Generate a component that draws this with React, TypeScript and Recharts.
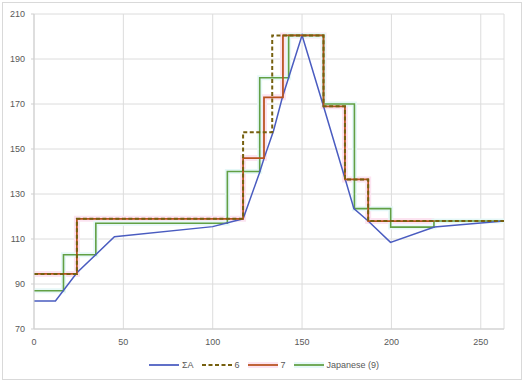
import React from "react";
import { LineChart, Line, XAxis, YAxis, CartesianGrid, Legend } from "recharts";

// ΣA (polyline)
const sumAX = [0, 12, 24, 45, 100, 117, 126, 129, 134, 139, 150, 162, 174, 179, 187, 199.5, 224, 263];
const sumAY = [82.5, 82.5, 95, 111, 115.5, 119, 139, 146.5, 158, 173, 200.5, 169, 137, 123.5, 118, 108.5, 115.3, 118];

// 6 (step after)
const s6X = [0, 24, 117, 133.3, 162, 174, 187, 263];
const s6Y = [94.5, 119, 157.5, 200.5, 169, 136.5, 118, 118];

// 7 (step after)
const s7X = [0, 24, 117, 128.7, 139.3, 162, 174, 187, 224];
const s7Y = [94.5, 119, 146, 173, 200.5, 169, 136.5, 118, 118];

// Japanese (9) (step after)
const jpX = [0, 16.5, 34.6, 108.2, 126.3, 142.5, 162, 179.3, 199.6, 223.8, 263];
const jpY = [87, 103, 117, 140, 181.7, 200.5, 170, 123.5, 115.3, 118, 118];

const xTicks = [0, 50, 100, 150, 200, 250];
const yTicks = [70, 90, 110, 130, 150, 170, 190, 210];

const seriesNames = ["ΣA", "6", "7", "Japanese (9)"];

const zip = (xs: number[], ys: number[]) => xs.map((x, i) => ({ x, y: ys[i] }));
const dataA = zip(sumAX, sumAY);
const data6 = zip(s6X, s6Y);
const data7 = zip(s7X, s7Y);
const dataJ = zip(jpX, jpY);

const C_BLUE = "#4a5cc0";
const C_6 = "#76600f";
const C_7 = "#b9521f";
const C_J = "#62a044";
const GLOW_7 = "#fce4f1";
const GLOW_J = "#e6f8f8";

const FONT = "'Liberation Sans', Arial, sans-serif";

const legendItems = [
  { name: seriesNames[0], color: C_BLUE, dash: undefined as string | undefined, glow: undefined as string | undefined },
  { name: seriesNames[1], color: C_6, dash: "4 2.5", glow: undefined },
  { name: seriesNames[2], color: C_7, dash: undefined, glow: GLOW_7 },
  { name: seriesNames[3], color: C_J, dash: undefined, glow: GLOW_J },
];

const LegendContent = () => (
  <div
    style={{
      display: "flex",
      justifyContent: "center",
      alignItems: "center",
      height: 16,
      fontFamily: FONT,
      fontSize: 9,
      color: "#595959",
    }}
  >
    {legendItems.map((it, i) => (
      <div key={it.name} style={{ display: "flex", alignItems: "center", marginLeft: i === 0 ? 0 : 8 }}>
        <svg width={30} height={8} style={{ marginRight: 3 }}>
          {it.glow && <line x1={0} y1={4} x2={30} y2={4} stroke={it.glow} strokeWidth={6} />}
          <line
            x1={0}
            y1={4}
            x2={30}
            y2={4}
            stroke={it.color}
            strokeWidth={it.dash ? 2 : 1.75}
            strokeDasharray={it.dash}
          />
        </svg>
        <span>{it.name}</span>
      </div>
    ))}
  </div>
);

export default function App() {
  return (
    <div style={{ position: "absolute", left: 0, top: 0, width: 528, height: 386, background: "#fff" }}>
      <div
        style={{
          position: "absolute",
          left: 2,
          top: 2,
          width: 520,
          height: 378,
          border: "1px solid #d9d9d9",
          boxSizing: "border-box",
        }}
      />
      <div style={{ position: "absolute", left: 0, top: 0 }}>
        <LineChart width={528} height={386} margin={{ top: 14, right: 24, bottom: 13, left: 0 }}>
          <CartesianGrid stroke="#dcdcdc" strokeWidth={1} vertical={true} horizontal={true} />
          <XAxis
            type="number"
            dataKey="x"
            domain={[0, 263]}
            ticks={xTicks}
            allowDataOverflow
            height={28}
            tickLine={false}
            axisLine={{ stroke: "#cfcfcf" }}
            tick={{ fill: "#595959", fontSize: 9, fontFamily: FONT }}
            tickMargin={4}
            interval={0}
          />
          <YAxis
            type="number"
            domain={[70, 210]}
            ticks={yTicks}
            width={34}
            tickSize={3}
            tickMargin={6}
            tickLine={{ stroke: "#cfcfcf" }}
            axisLine={{ stroke: "#cfcfcf" }}
            tick={{ fill: "#595959", fontSize: 9, fontFamily: FONT }}
            interval={0}
          />
          <Legend verticalAlign="bottom" content={<LegendContent />} wrapperStyle={{ left: 0, width: 528 }} />
          <Line data={data7} dataKey="y" type="stepAfter" stroke={GLOW_7} strokeWidth={6} dot={false} isAnimationActive={false} legendType="none" />
          <Line data={dataJ} dataKey="y" type="stepAfter" stroke={GLOW_J} strokeWidth={5} dot={false} isAnimationActive={false} legendType="none" />
          <Line data={dataJ} dataKey="y" name={seriesNames[3]} type="stepAfter" stroke={C_J} strokeWidth={1.6} dot={false} isAnimationActive={false} />
          <Line data={dataA} dataKey="y" name={seriesNames[0]} type="linear" stroke={C_BLUE} strokeWidth={1.5} dot={false} isAnimationActive={false} />
          <Line data={data7} dataKey="y" name={seriesNames[2]} type="stepAfter" stroke={C_7} strokeWidth={1.75} dot={false} isAnimationActive={false} />
          <Line data={data6} dataKey="y" name={seriesNames[1]} type="stepAfter" stroke={C_6} strokeWidth={2} strokeDasharray="4 2.5" dot={false} isAnimationActive={false} />
        </LineChart>
      </div>
    </div>
  );
}
